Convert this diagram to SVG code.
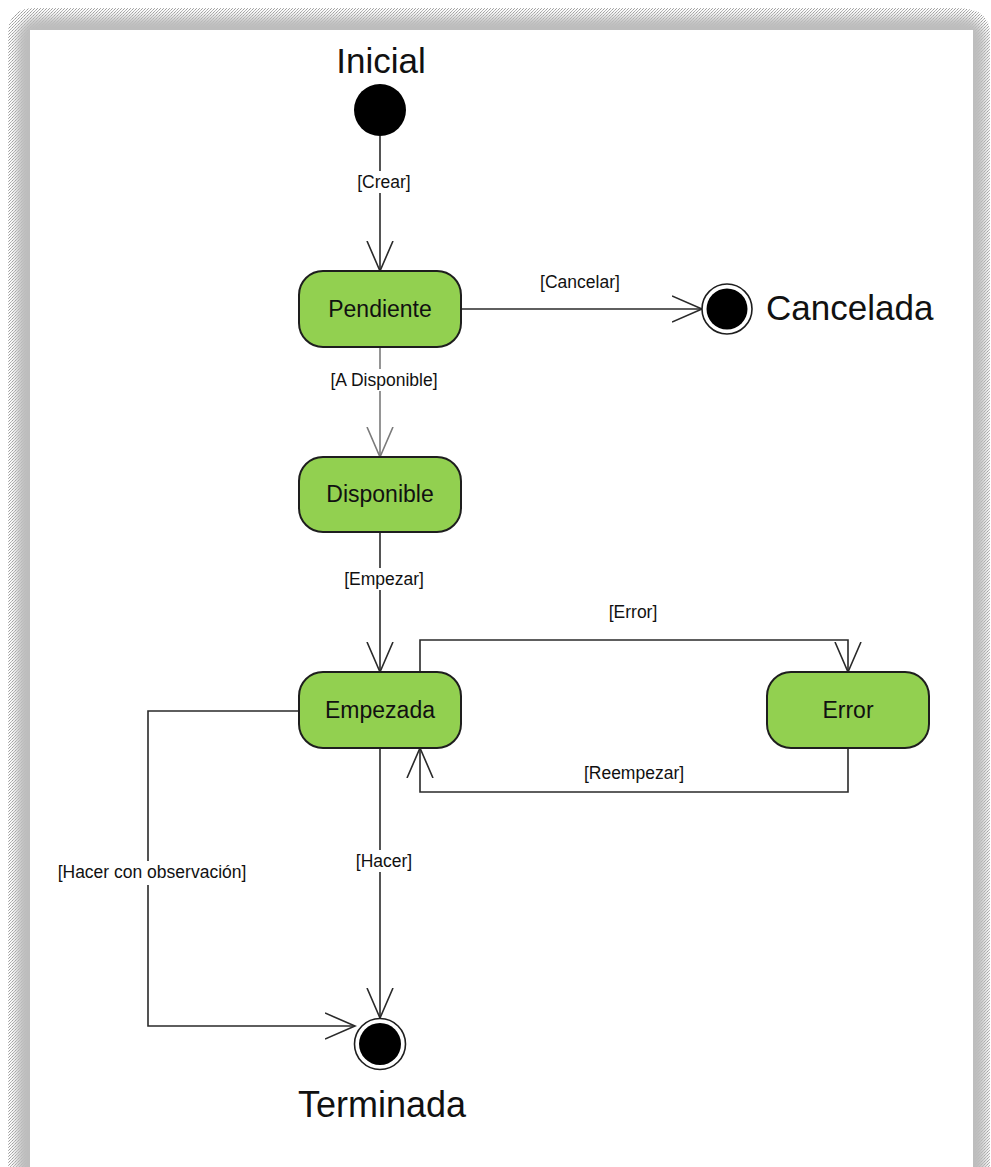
<svg xmlns="http://www.w3.org/2000/svg" width="991" height="1167" viewBox="0 0 991 1167">
  <style>
    .state { fill: #92d050; stroke: #1e1e1e; stroke-width: 2; }
    .state-text { font-family: "Liberation Sans", Arial, sans-serif; font-size: 23px; fill: #111; text-anchor: middle; }
    .title { font-family: "Liberation Sans", Arial, sans-serif; font-size: 35px; fill: #111; }
    .label { font-family: "Liberation Sans", Arial, sans-serif; font-size: 17.5px; fill: #111; text-anchor: middle; }
    .label-bg { fill: #ffffff; }
    .edge { fill: none; stroke: #2a2a2a; stroke-width: 1.6; marker-end: url(#open-arrow); }
    .edge-light { stroke: #7a7a7a; }
  </style>
  <defs>
    <marker id="open-arrow" markerUnits="userSpaceOnUse" viewBox="0 -15 32 30" refX="30" refY="0" markerWidth="32" markerHeight="30" orient="auto">
      <path d="M0,-13 L30,0 L0,13" fill="none" stroke="#2a2a2a" stroke-width="1.6"/>
    </marker>
    <marker id="open-arrow-light" markerUnits="userSpaceOnUse" viewBox="0 -15 32 30" refX="30" refY="0" markerWidth="32" markerHeight="30" orient="auto">
      <path d="M0,-13 L30,0 L0,13" fill="none" stroke="#7a7a7a" stroke-width="1.6"/>
    </marker>
    <filter id="soft" x="-5%" y="-5%" width="110%" height="110%">
      <feGaussianBlur stdDeviation="5"/>
    </filter>
    <pattern id="grain" width="3" height="3" patternUnits="userSpaceOnUse">
      <rect width="3" height="3" fill="#ffffff" fill-opacity="0"/>
      <rect x="0" y="0" width="1" height="1" fill="#555"/>
      <rect x="2" y="1" width="1" height="1" fill="#888"/>
      <rect x="1" y="2" width="1" height="1" fill="#777"/>
    </pattern>
    <clipPath id="frame-band">
      <path fill-rule="evenodd" d="M8,1167 V34 Q8,8 34,8 H957 Q990,8 990,34 V1167 Z M30,30 H973 V1167 H30 Z"/>
    </clipPath>
  </defs>

  <!-- page background with soft shadow frame -->
  <rect width="991" height="1167" fill="#ffffff"/>
  <g clip-path="url(#frame-band)">
    <rect x="4" y="4" width="986" height="1200" fill="url(#grain)" opacity="0.6"/>
    <rect x="17" y="17" width="968" height="1200" rx="22" fill="#bdbdbd" filter="url(#soft)"/>
  </g>
  <rect x="30" y="30" width="943" height="1140" fill="#ffffff"/>

  <!-- connectors -->
  <g id="connectors">
    <path class="edge" d="M380,136 V271"/>
    <path class="edge" d="M461,309 H702"/>
    <path class="edge edge-light" style="marker-end:url(#open-arrow-light)" d="M380,347 V457"/>
    <path class="edge" d="M380,532 V672"/>
    <path class="edge" d="M420,672 V640 H848 V672"/>
    <path class="edge" d="M848,748 V792 H420 V748"/>
    <path class="edge" d="M380,748 V1018"/>
    <path class="edge" d="M299,711 H148 V1026 H355"/>

    <rect class="label-bg" x="352" y="171" width="64" height="22"/>
    <text class="label" x="384" y="188">[Crear]</text>
    <text class="label" x="580" y="288">[Cancelar]</text>
    <rect class="label-bg" x="324" y="369" width="120" height="22"/>
    <text class="label" x="384" y="386">[A Disponible]</text>
    <rect class="label-bg" x="340" y="568" width="88" height="22"/>
    <text class="label" x="384" y="585">[Empezar]</text>
    <text class="label" x="633" y="618">[Error]</text>
    <text class="label" x="634" y="779">[Reempezar]</text>
    <rect class="label-bg" x="353" y="850" width="62" height="22"/>
    <text class="label" x="384" y="867">[Hacer]</text>
    <rect class="label-bg" x="54" y="861" width="197" height="24"/>
    <text class="label" x="152" y="878">[Hacer con observación]</text>
  </g>

  <!-- initial pseudo-state -->
  <g id="inicial">
    <text class="title" x="381" y="73" text-anchor="middle">Inicial</text>
    <circle cx="380" cy="110" r="26" fill="#000"/>
  </g>

  <g id="pendiente">
    <rect class="state" x="299" y="271" width="162" height="76" rx="24"/>
    <text class="state-text" x="380" y="317">Pendiente</text>
  </g>

  <g id="cancelada">
    <circle cx="727" cy="309" r="25" fill="#fff" stroke="#1e1e1e" stroke-width="1.6"/>
    <circle cx="727" cy="309" r="20.5" fill="#000"/>
    <text class="title" x="766" y="320">Cancelada</text>
  </g>

  <g id="disponible">
    <rect class="state" x="299" y="457" width="162" height="75" rx="24"/>
    <text class="state-text" x="380" y="502">Disponible</text>
  </g>

  <g id="empezada">
    <rect class="state" x="299" y="672" width="162" height="76" rx="24"/>
    <text class="state-text" x="380" y="718">Empezada</text>
  </g>

  <g id="error">
    <rect class="state" x="767" y="672" width="162" height="76" rx="24"/>
    <text class="state-text" x="848" y="718">Error</text>
  </g>

  <g id="terminada">
    <circle cx="380" cy="1044" r="25.5" fill="#fff" stroke="#1e1e1e" stroke-width="1.6"/>
    <circle cx="380" cy="1044" r="21" fill="#000"/>
    <text class="title" x="382" y="1117" text-anchor="middle" style="font-size:36px">Terminada</text>
  </g>
</svg>
